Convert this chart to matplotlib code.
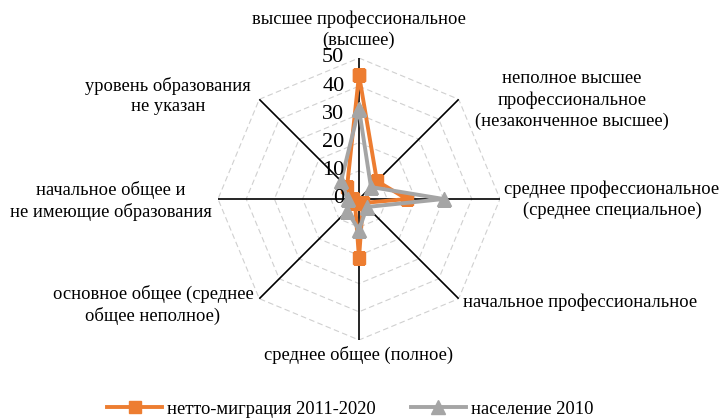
import numpy as np
import matplotlib
matplotlib.use("Agg")
import matplotlib.pyplot as plt
from matplotlib.lines import Line2D

categories = [
    "высшее профессиональное\n(высшее)",
    "неполное высшее\nпрофессиональное\n(незаконченное высшее)",
    "среднее профессиональное\n(среднее специальное)",
    "начальное профессиональное",
    "среднее общее (полное)",
    "основное общее (среднее\nобщее неполное)",
    "начальное общее и\nне имеющие образования",
    "уровень образования\nне указан",
]
migration = [44, 9, 17, 2, 21, 2, 2, 6]
population = [32, 6, 30, 4, 11, 6, 4, 9]
series_names = ["нетто-миграция 2011-2020", "население 2010"]
r_ticks = [0, 10, 20, 30, 40, 50]

ORANGE = "#ED7D31"
GRAY = "#A5A5A5"

plt.rcParams['font.family'] = ['Liberation Serif', 'DejaVu Serif']

fig = plt.figure(figsize=(7.2, 4.2), dpi=100)
cx, cy, R = 359 / 720, 1 - 199 / 420, 141
ax = fig.add_axes([cx - R / 720, cy - R / 420, 2 * R / 720, 2 * R / 420], projection='polar')
ax.set_theta_zero_location('N')
ax.set_theta_direction(-1)
ax.set_ylim(0, 50)
ax.grid(False)
ax.set_xticks([])
ax.set_yticks([])
ax.spines['polar'].set_visible(False)
ax.patch.set_alpha(0)

n = len(categories)
angles = np.linspace(0, 2 * np.pi, n, endpoint=False)
closed = np.concatenate([angles, angles[:1]])

# octagonal gridlines
for r in r_ticks[1:]:
    ax.plot(closed, [r] * (n + 1), color="#D0D0D0", lw=0.8, ls=(0, (5, 3)), zorder=1)
# spokes
for a in angles:
    ax.plot([a, a], [0, r_ticks[-1]], color="black", lw=1.2, zorder=2)

# series
m = np.concatenate([migration, migration[:1]])
p = np.concatenate([population, population[:1]])
ax.plot(closed, m, color=ORANGE, lw=2.8, marker='s', ms=8.5, zorder=3)
ax.plot(closed, p, color=GRAY, lw=2.8, marker='^', ms=10, zorder=4)

# radial tick labels
for r in r_ticks:
    ax.annotate(str(r), xy=(0, r), xytext=(-10.5, 0), textcoords='offset points',
                ha='right', va='center', fontsize=16, zorder=5)

# category labels (pixel positions from top-left)
label_pos = [
    (359, 30),
    (572, 100),
    (612, 200),
    (580, 302),
    (359, 355),
    (153, 305),
    (111, 201),
    (168, 96),
]
for text, (x, y) in zip(categories, label_pos):
    fig.text(x / 720, 1 - y / 420, text, ha='center', va='center', fontsize=13.3,
             multialignment='center', linespacing=1.3)

handles = [
    Line2D([], [], color=ORANGE, lw=2.8, marker='s', ms=8.5),
    Line2D([], [], color=GRAY, lw=2.8, marker='^', ms=10),
]
fig.legend(handles, series_names, loc='center', bbox_to_anchor=(350 / 720, 1 - 409 / 420),
           ncol=2, frameon=False, fontsize=13.3, handlelength=3.0, columnspacing=1.9,
           handletextpad=0.25, borderpad=0)

fig.savefig("out.png", dpi=100)
